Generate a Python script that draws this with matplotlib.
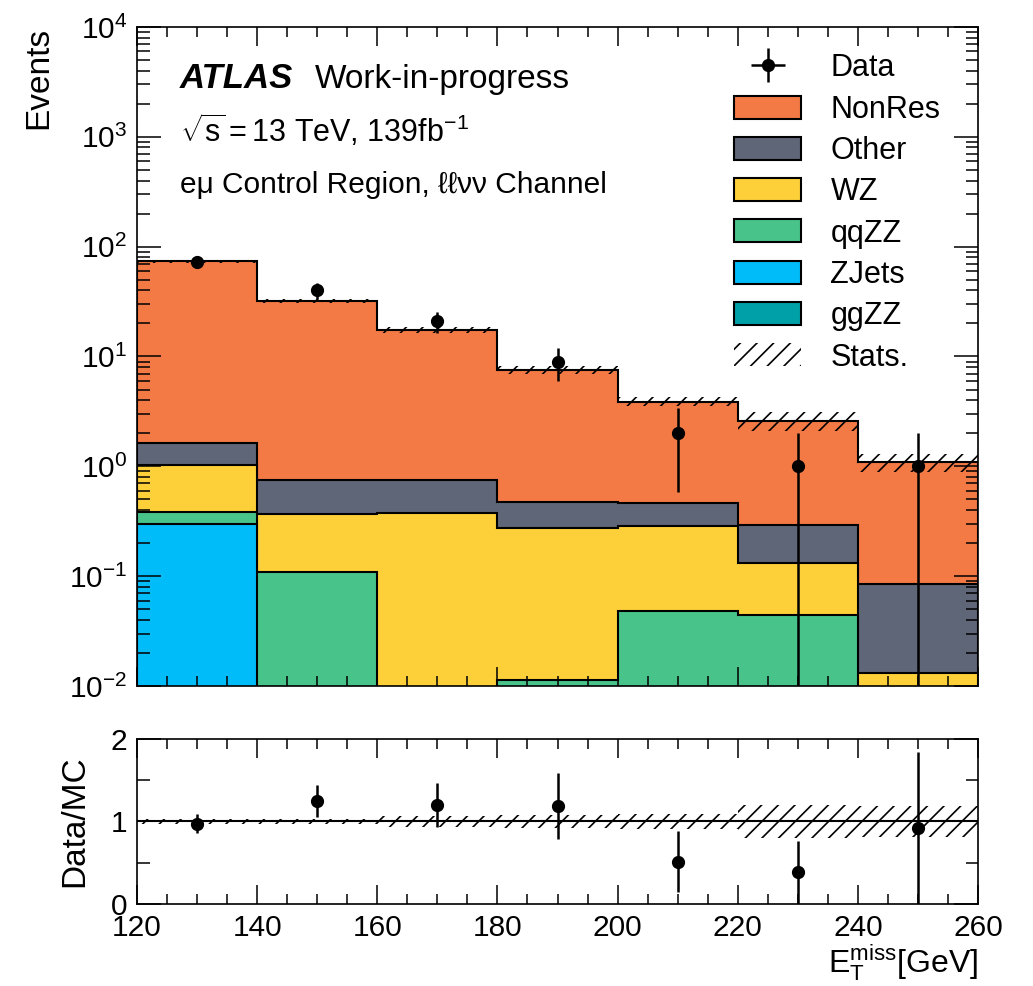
import numpy as np
import matplotlib.pyplot as plt
from matplotlib.lines import Line2D
from matplotlib.patches import Patch
from matplotlib.legend_handler import HandlerTuple
from matplotlib.ticker import LogLocator, MultipleLocator, NullFormatter

plt.rcParams['font.family'] = ['Liberation Sans', 'DejaVu Sans']
plt.rcParams['mathtext.fontset'] = 'custom'
plt.rcParams['mathtext.rm'] = 'Liberation Sans'
plt.rcParams['mathtext.it'] = 'Liberation Sans:italic'
plt.rcParams['mathtext.bf'] = 'Liberation Sans:bold'
plt.rcParams['hatch.linewidth'] = 1.2

# --------------------------------------------------
# Histogram contents
# --------------------------------------------------
edges = np.array([120, 140, 160, 180, 200, 220, 240, 260])

ggzz = [0.0005, 0.0005, 0.0005, 0.0005, 0.0005, 0.0005, 0.0005]
zjets = [0.30, 0.0, 0.0, 0.0, 0.0, 0.0, 0.0]
qqzz = [0.085, 0.109, 0.0, 0.0108, 0.048, 0.0437, 0.0]
wz = [0.64, 0.258, 0.375, 0.265, 0.238, 0.088, 0.0126]
other = [0.60, 0.38, 0.372, 0.196, 0.179, 0.158, 0.072]
nonres = [72.2, 31.25, 16.75, 7.1, 3.42, 2.31, 1.0]

data = [72, 40, 21, 9, 2, 1, 1]
stat_rel = [0.03, 0.035, 0.07, 0.08, 0.09, 0.20, 0.19]

names = ["ggZZ", "ZJets", "qqZZ", "WZ", "Other", "NonRes"]
colors = ["#00A0A8", "#00BCF9", "#48C48B", "#FDD03A", "#5F6678", "#F47A45"]
stack = [ggzz, zjets, qqzz, wz, other, nonres]

cum = np.cumsum(np.array(stack), axis=0)
total = cum[-1]
centers = 0.5 * (edges[1:] + edges[:-1])
widths = np.diff(edges)
data = np.array(data, dtype=float)
stat = total * np.array(stat_rel)

# --------------------------------------------------
# Figure
# --------------------------------------------------
fig = plt.figure(figsize=(10.33, 9.86), dpi=100)
ax = fig.add_axes([0.1326, 0.3043, 0.8142, 0.6683])
rax = fig.add_axes([0.1326, 0.0832, 0.8142, 0.1673])

for i in reversed(range(len(stack))):
    ax.stairs(cum[i], edges, baseline=1e-4, fill=True,
              facecolor=colors[i], edgecolor="black", linewidth=1.5)

ax.bar(centers, 2 * stat, bottom=total - stat, width=widths, fill=False,
       hatch="//", edgecolor="black", linewidth=0)

ax.errorbar(centers, data, yerr=np.sqrt(data), fmt="o", color="black",
            ms=8.5, elinewidth=1.8, capsize=0)

ax.set_yscale("log")
ax.set_ylim(1e-2, 1e4)
ax.set_xlim(120, 260)
ax.yaxis.set_major_locator(LogLocator(base=10, numticks=10))
ax.yaxis.set_minor_locator(LogLocator(base=10, subs=np.arange(2, 10), numticks=100))
ax.yaxis.set_minor_formatter(NullFormatter())
ax.xaxis.set_major_locator(MultipleLocator(20))
ax.xaxis.set_minor_locator(MultipleLocator(5))
ax.tick_params(labelbottom=False)

ax.set_ylabel("Events", fontsize=24, loc="top")
ax.yaxis.set_label_coords(-0.098, 1.0)

# text block
ax.text(0.051, 0.907, "ATLAS", transform=ax.transAxes, fontsize=25,
        fontweight="bold", fontstyle="italic", va="baseline")
ax.text(0.212, 0.907, "Work-in-progress", transform=ax.transAxes, fontsize=24,
        va="baseline")
ax.text(0.051, 0.825, r"$\sqrt{\mathrm{s}}=13$ TeV, 139fb$^{-1}$", transform=ax.transAxes,
        fontsize=22, va="baseline")
ax.text(0.051, 0.748, "eμ Control Region, ℓℓνν Channel", transform=ax.transAxes,
        fontsize=21.5, va="baseline")

# legend
data_handle = (Line2D([], [], marker="+", ms=24, mew=1.8, color="black", ls="none"),
               Line2D([], [], marker="o", ms=8.5, color="black", ls="none"))
handles = [data_handle]
labels = ["Data"]
for i in reversed(range(len(stack))):
    handles.append(Patch(facecolor=colors[i], edgecolor="black", linewidth=1.5))
    labels.append(names[i])
handles.append(Patch(facecolor="none", edgecolor="black", hatch="//", linewidth=0))
labels.append("Stats.")
ax.legend(handles, labels, loc="upper left", bbox_to_anchor=(0.71, 0.96),
          frameon=False, fontsize=22, handlelength=2.2, handleheight=0.78,
          handletextpad=0.95, labelspacing=0.37, borderpad=0, borderaxespad=0,
          handler_map={tuple: HandlerTuple(ndivide=1)})

# --------------------------------------------------
# Ratio panel
# --------------------------------------------------
ratio = data / total
ratio_err = np.sqrt(data) / total

rax.bar(centers, 2 * np.array(stat_rel), bottom=1 - np.array(stat_rel), width=widths,
        fill=False, hatch="//", edgecolor="black", linewidth=0)
rax.axhline(1.0, color="black", linewidth=1.5)
rax.errorbar(centers, ratio, yerr=ratio_err, fmt="o", color="black",
             ms=8.5, elinewidth=1.8, capsize=0)

rax.set_xlim(120, 260)
rax.set_ylim(0, 2)
rax.yaxis.set_major_locator(MultipleLocator(1))
rax.yaxis.set_minor_locator(MultipleLocator(0.5))
rax.xaxis.set_major_locator(MultipleLocator(20))
rax.xaxis.set_minor_locator(MultipleLocator(5))
rax.set_ylabel("Data/MC", fontsize=24)
rax.yaxis.set_label_coords(-0.055, 0.5)
rax.set_xlabel(r"$\mathrm{E}_{\mathrm{T}}^{\mathrm{miss}}$[GeV]", fontsize=23, loc="right")
rax.xaxis.set_label_coords(1.0, -0.235)

for a in (ax, rax):
    a.tick_params(which="both", direction="in", top=True, right=True,
                  labelsize=21.5, pad=7)
    a.tick_params(axis="x", which="major", length=14, width=1.1)
    a.tick_params(axis="x", which="minor", length=7, width=1.1)
    a.tick_params(axis="y", which="major", length=17, width=1.1)
    a.tick_params(axis="y", which="minor", length=9, width=1.1)
    for s in a.spines.values():
        s.set_linewidth(1.2)

fig.savefig("out.png", dpi=100)
